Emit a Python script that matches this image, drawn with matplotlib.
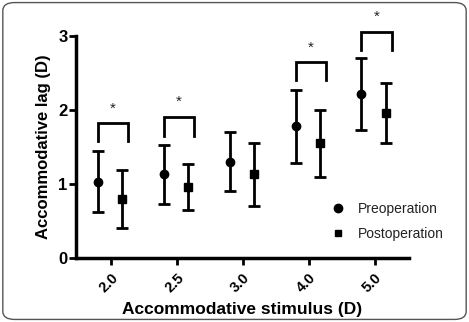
import matplotlib.pyplot as plt
from matplotlib.patches import FancyBboxPatch
from matplotlib.lines import Line2D
import numpy as np

plt.rcParams['font.family'] = ['Liberation Sans', 'DejaVu Sans']

stimulus = ["2.0", "2.5", "3.0", "4.0", "5.0"]
pre_mean = [1.03, 1.13, 1.30, 1.78, 2.22]
pre_sd = [0.41, 0.40, 0.40, 0.49, 0.49]
post_mean = [0.80, 0.96, 1.13, 1.55, 1.96]
post_sd = [0.39, 0.31, 0.43, 0.45, 0.40]

# significance brackets: category index, top of bracket, leg bottom
sig_idx = [0, 1, 3, 4]
sig_top = [1.82, 1.91, 2.65, 3.06]
sig_leg = [1.58, 1.65, 2.40, 2.81]

fig = plt.figure(figsize=(4.69, 3.22), dpi=100)
ax = fig.add_axes([0.162, 0.199, 0.71, 0.689])

x = np.arange(len(stimulus))
ax.errorbar(x - 0.2, pre_mean, yerr=pre_sd, fmt='o', color='black', ms=6,
            elinewidth=2, capsize=4.5, capthick=2)
ax.errorbar(x + 0.17, post_mean, yerr=post_sd, fmt='s', color='black', ms=5.5,
            elinewidth=2, capsize=4.5, capthick=2)

for i, top, leg in zip(sig_idx, sig_top, sig_leg):
    x0, x1 = i - 0.2, i + 0.26
    ax.plot([x0, x0, x1, x1], [leg, top, top, leg], color='black', lw=2,
            clip_on=False, solid_joinstyle='miter')
    ax.text((x0 + x1) / 2, top + 0.1, '*', ha='center', va='bottom', fontsize=11,
            color='#222222', clip_on=False)

ax.set_xlim(-0.53, 4.52)
ax.set_ylim(0, 3)
ax.set_xticks(x)
ax.set_xticklabels(stimulus, rotation=45, fontsize=10.5, fontweight='bold',
                   ha='right', rotation_mode='anchor')
ax.set_yticks([0, 1, 2, 3])
ax.set_yticklabels(['0', '1', '2', '3'], fontsize=12, fontweight='bold')
for s in ['top', 'right']:
    ax.spines[s].set_visible(False)
for s in ['left', 'bottom']:
    ax.spines[s].set_linewidth(2.5)
ax.tick_params(width=2, length=5)
ax.tick_params(axis='y', pad=1)
ax.tick_params(axis='x', pad=4)
ax.set_xlabel('Accommodative stimulus (D)', fontsize=12.5, fontweight='bold', labelpad=5)
ax.set_ylabel('Accommodative lag (D)', fontsize=12, fontweight='bold', labelpad=5)

handles = [Line2D([], [], marker='o', ls='', color='black', ms=6),
           Line2D([], [], marker='s', ls='', color='black', ms=5)]
fig.legend(handles, ['Preoperation', 'Postoperation'], loc='center left',
           bbox_to_anchor=(0.691, 0.312), frameon=False, fontsize=10,
           borderpad=0, handlelength=1, handletextpad=0.95, labelspacing=0.8,
           labelcolor='#222222')

fig.patches.append(FancyBboxPatch((0.006, 0.008), 0.988, 0.984,
                                  boxstyle='round,pad=0,rounding_size=0.025',
                                  transform=fig.transFigure, fill=False,
                                  edgecolor='#555555', lw=1))

fig.savefig('out.png', dpi=100)
